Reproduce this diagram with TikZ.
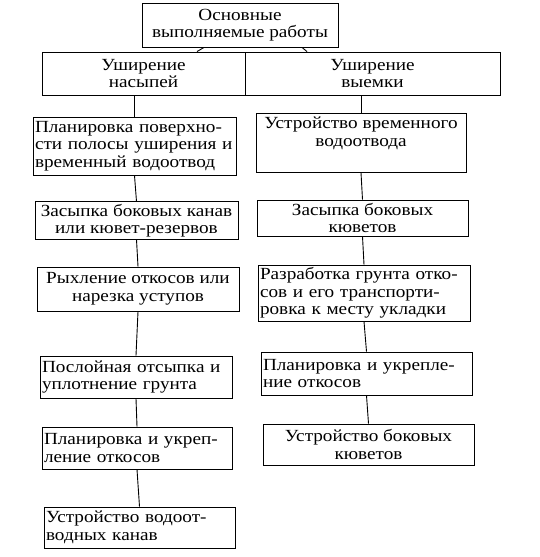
\documentclass[tikz,border=0pt]{standalone}
\usepackage{fontspec}
\setmainfont{Liberation Serif}[FakeStretch=1.13]

\begin{document}
\begin{tikzpicture}[x=1pt,y=-1pt,
		work/.style={draw, line width=0.9pt, inner sep=2pt,
			font=\fontsize{17}{17.5}\selectfont},
		link/.style={line width=0.9pt}]
		\useasboundingbox (0,0) rectangle (540,557);

		% Top level.
		\node[work, align=center, minimum width=196pt, minimum height=44pt]
			(main) at (240,25) {Основные\\выполняемые работы};

		% Two kinds of widening.
		\node[work, align=center, minimum width=203pt, minimum height=43pt]
			(nasyp) at (143.5,73.5) {Уширение\\насыпей};
		\node[work, align=center, minimum width=255pt, minimum height=43pt]
			(vyem) at (372.5,73.5) {Уширение\\выемки};
		\draw[link] (main.south -| 204,0) -- (nasyp.north -| 197,0);
		\draw[link] (main.south -| 302,0) -- (vyem.north -| 307,0);

		% Left column: embankment.
		\node[work, align=left, text width=199pt, minimum height=58pt]
			(l1) at (134.5,146) {Планировка поверхно-\\сти полосы уширения и\\временный водоотвод};
		\node[work, align=center, minimum width=203pt, minimum height=33pt]
			(l2) at (136.5,220.5) {Засыпка боковых канав\\или кювет-резервов};
		\node[work, align=center, minimum width=202pt, minimum height=44pt]
			(l3) at (138,289) {Рыхление откосов или\\нарезка уступов};
		\node[work, align=left, text width=188pt, minimum height=42pt]
			(l4) at (136,377) {Послойная отсыпка и\\уплотнение грунта};
		\node[work, align=left, text width=186pt, minimum height=42pt]
			(l5) at (137,448) {Планировка и укреп-\\ление откосов};
		\node[work, align=left, text width=187pt, minimum height=41pt]
			(l6) at (139.5,527.5) {Устройство водоот-\\водных канав};

		\draw[link] (l1.north |- nasyp.south) -- (l1.north);
		\draw[link] (l1.south) -- (l2.north);
		\draw[link] (l2.south) -- (l3.north);
		\draw[link] (l3.south) -- (l4.north);
		\draw[link] (l4.south) -- (l5.north);
		\draw[link] (l5.south) -- (l6.north);

		% Right column: cut.
		\node[work, align=center, minimum width=210pt, minimum height=59pt, text depth=22pt]
			(r1) at (361,142.5) {Устройство временного\\водоотвода};
		\node[work, align=center, minimum width=211pt, minimum height=36pt]
			(r2) at (362.5,218) {Засыпка боковых\\кюветов};
		\node[work, align=left, text width=208pt, minimum height=56pt]
			(r3) at (364,293) {Разработка грунта отко-\\сов и его транспорти-\\ровка к месту укладки};
		\node[work, align=left, text width=207pt, minimum height=43pt]
			(r4) at (366.5,373.5) {Планировка и укрепле-\\ние откосов};
		\node[work, align=center, minimum width=211pt, minimum height=41pt]
			(r5) at (368.5,444.5) {Устройство боковых\\кюветов};

		\draw[link] (r1.north |- vyem.south) -- (r1.north);
		\draw[link] (r1.south) -- (r2.north);
		\draw[link] (r2.south) -- (r3.north);
		\draw[link] (r3.south) -- (r4.north);
		\draw[link] (r4.south) -- (r5.north);
	\end{tikzpicture}
\end{document}
